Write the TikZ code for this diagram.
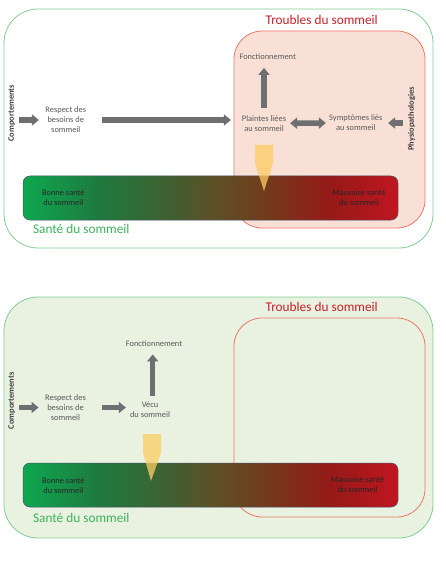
\documentclass[tikz,border=0pt]{standalone}
\usepackage{fontspec}
\setmainfont{Carlito}
\usetikzlibrary{arrows.meta}

\definecolor{vertBord}{RGB}{130,205,150}
\definecolor{vertFond}{RGB}{233,241,225}
\definecolor{roseFond}{RGB}{249,224,214}
\definecolor{roseBord}{RGB}{238,120,100}
\definecolor{rougeTitre}{RGB}{200,32,40}
\definecolor{vertTitre}{RGB}{60,180,90}
\definecolor{gris}{RGB}{110,111,113}
\definecolor{grisTxt}{RGB}{89,89,89}
\definecolor{grisFort}{RGB}{64,64,64}
\definecolor{jaune}{RGB}{252,205,100}
\definecolor{barBord}{RGB}{70,80,110}
\definecolor{s1}{RGB}{14,168,80}
\definecolor{s2}{RGB}{30,122,64}
\definecolor{s3}{RGB}{66,94,48}
\definecolor{s4}{RGB}{92,82,40}
\definecolor{s5}{RGB}{112,60,28}
\definecolor{s6}{RGB}{150,26,24}
\definecolor{s7}{RGB}{192,22,32}
\pgfdeclarehorizontalshading{sante}{100bp}{color(0bp)=(s1); color(25bp)=(s1);
  color(35bp)=(s2); color(45bp)=(s3); color(50bp)=(s4); color(57bp)=(s5);
  color(66bp)=(s6); color(75bp)=(s7); color(100bp)=(s7)}
\newcommand\petit{\fontsize{8.4}{10}\selectfont}

\begin{document}
\begin{tikzpicture}[
		x = 1pt, y = -1pt,
		lbl/.style  = {font=\petit, text=grisTxt, align=center, inner sep=0pt},
		bar/.style  = {font=\petit, text=black!85, align=center, inner sep=0pt},
		rot/.style  = {font=\petit\bfseries, text=grisFort, rotate=90, inner sep=0pt},
		ttl/.style  = {font=\fontsize{13.3}{15}\selectfont, inner sep=0pt},
		blk/.style  = {draw=gris, line width=5.5pt, -{Triangle[length=7pt, width=11pt]}},
		dbl/.style  = {draw=gris, line width=5.5pt, {Triangle[length=7pt, width=11pt]}-{Triangle[length=7pt, width=11pt]}},
		sante/.style = {shading=sante, rounded corners=7pt, draw=barBord, line width=0.5pt},
		cadre/.style = {draw=vertBord, line width=0.8pt, rounded corners=34pt},
		trb/.style  = {draw=roseBord, line width=0.8pt, rounded corners=28pt},
		ptr/.style  = {fill=jaune, opacity=0.75}
		]
		\useasboundingbox (0,0) rectangle (446,561);
		
		% haut : plaintes
		\draw[cadre, fill=white] (4,9) rectangle (433,248);
		\draw[trb, fill=roseFond] (234,31) rectangle (425,228);
		\shade[sante] (23,176) rectangle (398,220);
		\fill[ptr] (255,145) -- (273,145) -- (273,163) -- (264,191) -- (255,163) -- cycle;
		
		\node[ttl, text=rougeTitre] (trb1) at (321.7,20) {Troubles du sommeil};
		\node[ttl, text=vertTitre]  (snt1) at (81.3,229) {Santé du sommeil};
		\node[bar] (bon1) at (63.3,197.5) {Bonne santé\\du sommeil};
		\node[bar] (mau1) at (359,198) {Mauvaise santé\\du sommeil};
		
		\node[rot] (comp1) at (11.7,113.3) {Comportements};
		\node[lbl] (resp1) at (65.8,120) {Respect des\\besoins de\\sommeil};
		\node[lbl] (plai1) at (264,123.3) {Plaintes liées\\au sommeil};
		\node[lbl] (symp1) at (355.8,123) {Symptômes liés\\au sommeil};
		\node[lbl] (fonc1) at (267.7,56.7) {Fonctionnement};
		\node[rot] (phys1) at (411.7,118.8) {Physiopathologies};
		
		\draw[blk, shorten <=3.7pt, shorten >=6.4pt] (comp1.south |- resp1) -- (resp1.west);
		\draw[blk, shorten <=15.5pt, shorten >=10.8pt] (resp1.east) -- (resp1.east -| plai1.west);
		\draw[blk, shorten <=7pt, shorten >=8pt] (plai1.north) -- (plai1.north |- fonc1.south);
		\draw[dbl, shorten <=3.8pt, shorten >=3.1pt] (plai1.east) -- (symp1.west);
		\draw[blk, shorten <=5.1pt, shorten >=5.5pt] (phys1.north |- symp1) -- (symp1.east);
		
		% bas : vécu
		\draw[cadre, fill=vertFond] (4,297) rectangle (433,538);
		\draw[trb] (234,318) rectangle (425,517);
		\shade[sante] (23,463) rectangle (398,507);
		\fill[ptr] (143,434) -- (161,434) -- (161,453) -- (151,481) -- (143,453) -- cycle;
		
		\node[ttl, text=rougeTitre] (trb2) at (321.7,306.7) {Troubles du sommeil};
		\node[ttl, text=vertTitre]  (snt2) at (81.3,518.3) {Santé du sommeil};
		\node[bar] (bon2) at (63.3,485.3) {Bonne santé\\du sommeil};
		\node[bar] (mau2) at (357.5,485) {Mauvaise santé\\du sommeil};
		
		\node[rot] (comp2) at (11.7,400.8) {Comportements};
		\node[lbl] (resp2) at (65.5,407.5) {Respect des\\besoins de\\sommeil};
		\node[lbl] (vecu2) at (150,409.7) {Vécu\\du sommeil};
		\node[lbl] (fonc2) at (154,343.3) {Fonctionnement};
		
		\draw[blk, shorten <=3.7pt, shorten >=6.4pt] (comp2.south |- resp2) -- (resp2.west);
		\draw[blk, shorten <=15.5pt, shorten >=4pt] (resp2.east) -- (resp2.east -| vecu2.west);
		\draw[blk, shorten <=6pt, shorten >=8pt] ([xshift=2.7pt]vecu2.north) -- ([xshift=2.7pt]vecu2.north |- fonc2.south);
	\end{tikzpicture}
\end{document}
